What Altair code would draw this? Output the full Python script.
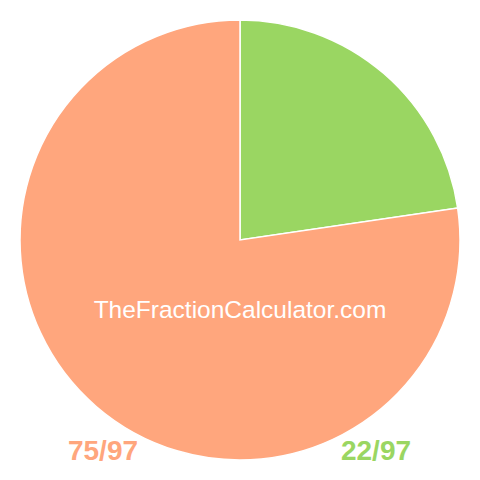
import altair as alt
import pandas as pd

fractions = ["22/97", "75/97"]
values = [22, 75]
colors = ["#9AD662", "#FFA67D"]
order = [1, 2]

df = pd.DataFrame({"fraction": fractions, "value": values, "order": order})

W = 464
pie = alt.Chart(df).mark_arc(outerRadius=220, stroke="white", strokeWidth=1.5).encode(
    theta=alt.Theta("value:Q", stack=True),
    color=alt.Color("fraction:N", scale=alt.Scale(domain=fractions, range=colors), legend=None),
    order=alt.Order("order:Q"),
)

lab_green = alt.Chart(pd.DataFrame({"t": [fractions[0]]})).mark_text(
    font="Liberation Sans", fontWeight="bold", fontSize=28, color=colors[0],
    align="center", baseline="alphabetic"
).encode(text="t:N", x=alt.value(368), y=alt.value(452))

lab_orange = alt.Chart(pd.DataFrame({"t": [fractions[1]]})).mark_text(
    font="Liberation Sans", fontWeight="bold", fontSize=28, color=colors[1],
    align="center", baseline="alphabetic"
).encode(text="t:N", x=alt.value(95), y=alt.value(452))

watermark = alt.Chart(pd.DataFrame({"t": ["TheFractionCalculator.com"]})).mark_text(
    font="Liberation Sans", fontSize=24.5, color="white",
    align="center", baseline="alphabetic"
).encode(text="t:N", x=alt.value(232), y=alt.value(310))

chart = alt.layer(pie, watermark, lab_green, lab_orange).properties(
    width=W, height=W, padding=0, autosize=alt.AutoSizeParams(type="none")
).configure_view(stroke=None)

chart.save("out.html", embed_options={"renderer": "svg", "actions": False})
